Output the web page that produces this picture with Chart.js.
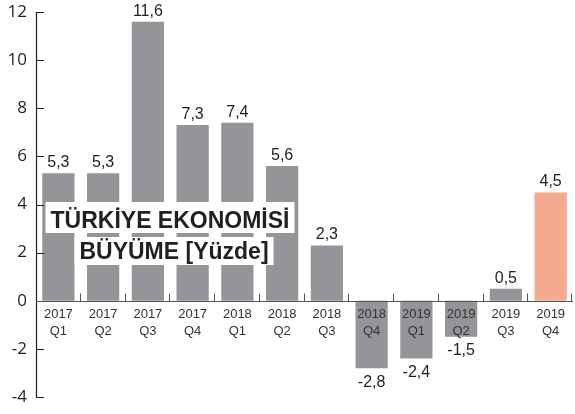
<!DOCTYPE html>
<html>
<head>
<meta charset="utf-8">
<script src="https://cdn.jsdelivr.net/npm/chart.js@4/dist/chart.umd.min.js"></script>
<style>
  html, body { margin: 0; padding: 0; background: #fff; }
  #wrap { width: 575px; height: 414px; position: relative; }
</style>
</head>
<body>
<div id="wrap"><canvas id="buyume-canvas"></canvas></div>
<script>
// veriler
var yillar = ['2017', '2017', '2017', '2017', '2018', '2018', '2018', '2018', '2019', '2019', '2019', '2019'];
var ceyrekler = ['Q1', 'Q2', 'Q3', 'Q4', 'Q1', 'Q2', 'Q3', 'Q4', 'Q1', 'Q2', 'Q3', 'Q4'];
var buyume = [5.3, 5.3, 11.6, 7.3, 7.4, 5.6, 2.3, -2.8, -2.4, -1.5, 0.5, 4.5];
var yTikler = [-4, -2, 0, 2, 4, 6, 8, 10, 12];
var baslik = ['TÜRKİYE EKONOMİSİ', 'BÜYÜME [Yüzde]'];

var renkGri = '#939598';
var renkSon = '#f4aa90';
var renkYazi = '#231f20';

var renkler = buyume.map(function (v, i) {
    return i === buyume.length - 1 ? renkSon : renkGri;
});

function virgullu(v) {
    return v.toFixed(1).replace('.', ',');
}

var eksenPlugin = {
    id: 'eksenPlugin',
    afterDatasetsDraw: function (chart) {
        var ctx = chart.ctx;
        var area = chart.chartArea;
        var y = chart.scales.y;
        var x = chart.scales.x;
        var sifir = y.getPixelForValue(0);
        var meta = chart.getDatasetMeta(0);

        ctx.save();
        ctx.strokeStyle = renkYazi;
        ctx.lineWidth = 1.2;

        // dikey eksen ve tikler
        ctx.beginPath();
        ctx.moveTo(area.left + 0.5, y.getPixelForValue(12));
        ctx.lineTo(area.left + 0.5, y.getPixelForValue(-4));
        yTikler.forEach(function (t) {
            var py = Math.round(y.getPixelForValue(t)) + 0.5;
            ctx.moveTo(area.left, py);
            ctx.lineTo(area.left + 8, py);
        });
        ctx.stroke();

        // sifir cizgisi ve kategori ayiraclari
        ctx.strokeStyle = '#555';
        ctx.lineWidth = 1;
        ctx.beginPath();
        var zy = Math.round(sifir) + 0.5;
        ctx.moveTo(area.left, zy);
        ctx.lineTo(area.right, zy);
        var genislik = (area.right - area.left) / buyume.length;
        for (var i = 1; i <= buyume.length; i++) {
            var px = Math.round(x.getPixelForValue(i - 1) + genislik / 2) - 0.5;
            if (i === buyume.length) px = area.right - 1.5;
            ctx.moveTo(px, zy);
            ctx.lineTo(px, zy - 8);
        }
        ctx.stroke();

        // kategori etiketleri
        ctx.fillStyle = '#333';
        ctx.font = '13px "Liberation Sans", Arial, sans-serif';
        ctx.textAlign = 'center';
        ctx.textBaseline = 'alphabetic';
        for (var j = 0; j < buyume.length; j++) {
            var cx = x.getPixelForValue(j);
            ctx.fillText(yillar[j], cx, sifir + 17);
            ctx.fillText(ceyrekler[j], cx, sifir + 34);
        }

        // deger etiketleri
        ctx.fillStyle = renkYazi;
        ctx.font = '16px "Liberation Sans", Arial, sans-serif';
        meta.data.forEach(function (bar, k) {
            var v = buyume[k];
            if (v >= 0) {
                ctx.textBaseline = 'alphabetic';
                ctx.fillText(virgullu(v), bar.x, bar.y - 6);
            } else {
                ctx.textBaseline = 'top';
                ctx.fillText(virgullu(v), bar.x, bar.y + 6);
            }
        });

        // baslik kutulari
        ctx.font = 'bold 23px "Liberation Sans", Arial, sans-serif';
        ctx.textBaseline = 'alphabetic';
        var satirlar = [
            { metin: baslik[0], cx: 170, taban: 228, ust: 202, alt: 233 },
            { metin: baslik[1], cx: 174, taban: 259, ust: 237, alt: 265 }
        ];
        satirlar.forEach(function (s) {
            var w = ctx.measureText(s.metin).width;
            ctx.fillStyle = '#fff';
            ctx.fillRect(s.cx - w / 2 - 5, s.ust, w + 10, s.alt - s.ust);
            ctx.fillStyle = renkYazi;
            ctx.fillText(s.metin, s.cx, s.taban);
        });

        ctx.restore();
    }
};

var grafik = new Chart(document.getElementById('buyume-canvas').getContext('2d'), {
    type: 'bar',
    data: {
        labels: yillar.map(function (yil, i) { return yil + ' ' + ceyrekler[i]; }),
        datasets: [{
            data: buyume,
            backgroundColor: renkler,
            borderWidth: 0,
            barPercentage: 0.72,
            categoryPercentage: 1.0
        }]
    },
    options: {
        responsive: true,
        maintainAspectRatio: false,
        animation: false,
        layout: { padding: { top: 12, bottom: 17, right: 2, left: 0 } },
        plugins: {
            legend: { display: false },
            tooltip: { enabled: false }
        },
        scales: {
            x: {
                display: false
            },
            y: {
                min: -4,
                max: 12,
                afterFit: function (scale) {
                    scale.width = 36;
                    scale.paddingTop = 0;
                    scale.paddingBottom = 0;
                },
                afterBuildTicks: function (scale) {
                    scale.ticks = yTikler.map(function (v) { return { value: v }; });
                },
                grid: { display: false, drawTicks: false },
                border: { display: false },
                ticks: {
                    padding: 9,
                    color: renkYazi,
                    font: { family: '"Open Sans", sans-serif', size: 17 }
                }
            }
        }
    },
    plugins: [eksenPlugin]
});
</script>
</body>
</html>
